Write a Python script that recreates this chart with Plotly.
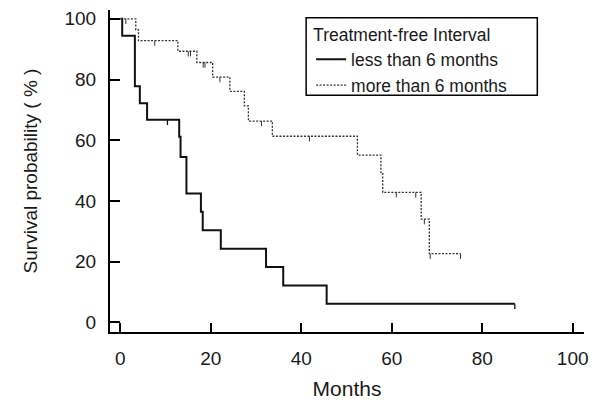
import plotly.graph_objects as go

# ---- data (Kaplan-Meier steps) ----
less_times = [0, 0.4, 3.2, 4.3, 5.9, 13.0, 13.3, 14.6, 17.8, 18.2, 22.2, 32.2, 36.0, 45.6, 87.2]
less_surv  = [100, 94.4, 77.8, 72.2, 66.7, 61.1, 54.5, 42.4, 36.4, 30.3, 24.2, 18.2, 12.1, 6.1, 6.1]
less_censor = [10.4, 87.2]

more_times = [0, 3.4, 4.0, 12.7, 16.9, 20.4, 24.2, 27.4, 28.3, 33.6, 52.4, 57.6, 58.0, 66.5, 68.3, 75.2]
more_surv  = [100, 96.4, 92.8, 89.3, 85.6, 80.8, 76.1, 71.3, 66.3, 61.3, 55.1, 49.1, 42.8, 34.0, 22.6, 22.6]
more_censor = [1.2, 7.6, 15.0, 15.5, 18.3, 18.7, 22.0, 31.2, 41.8, 61.0, 65.3, 67.2, 68.5, 75.2]

x_ticks = [0, 20, 40, 60, 80, 100]
y_ticks = [0, 20, 40, 60, 80, 100]

legend_title = "Treatment-free Interval"
name_less = "less than 6 months"
name_more = "more than 6 months"

FONT = "Liberation Sans, Arial, sans-serif"
TICK_DROP = 1.7  # censor tick length, in % units


def level_at(times, surv, t):
    val = surv[0]
    for ti, si in zip(times, surv):
        if ti <= t:
            val = si
    return val


def censor_segments(times, surv, cens):
    xs, ys = [], []
    for c in cens:
        lv = level_at(times, surv, c)
        xs += [c, c, None]
        ys += [lv, lv - TICK_DROP, None]
    return xs, ys


fig = go.Figure()

fig.add_trace(go.Scatter(
    x=less_times, y=less_surv, mode="lines", line_shape="hv",
    line=dict(color="#111111", width=2), name=name_less))
fig.add_trace(go.Scatter(
    x=more_times, y=more_surv, mode="lines", line_shape="hv",
    line=dict(color="#333333", width=1.3, dash="2px,1.5px"), name=name_more))

cx, cy = censor_segments(less_times, less_surv, less_censor)
fig.add_trace(go.Scatter(x=cx, y=cy, mode="lines", line=dict(color="#111111", width=1.3),
                         showlegend=False, hoverinfo="skip"))
cx, cy = censor_segments(more_times, more_surv, more_censor)
fig.add_trace(go.Scatter(x=cx, y=cy, mode="lines", line=dict(color="#333333", width=1),
                         showlegend=False, hoverinfo="skip"))

# legend frame (drawn as a paper-referenced box)
fig.add_shape(type="rect", xref="paper", yref="paper",
              x0=0.4138, x1=0.9015, y0=0.735, y1=0.976,
              line=dict(color="black", width=1.5), fillcolor="rgba(0,0,0,0)", layer="above")

fig.update_layout(
    width=599, height=406,
    margin=dict(l=110, r=15, t=9, b=63),
    paper_bgcolor="white", plot_bgcolor="white",
    font=dict(family=FONT, size=19, color="#1a1a1a"),
    showlegend=True,
    legend=dict(
        title=dict(text=legend_title, font=dict(size=17.5)),
        font=dict(size=17.5),
        x=0.4243, y=0.973, xanchor="left", yanchor="top",
        borderwidth=0, bgcolor="rgba(0,0,0,0)",
        tracegroupgap=0, itemwidth=30,
    ),
)

fig.update_xaxes(
    range=[-2.3, 102.5], tickvals=x_ticks, ticktext=[str(v) for v in x_ticks],
    showgrid=False, zeroline=False, showline=True, linecolor="black", linewidth=2,
    ticks="inside", ticklen=9, tickwidth=1.5, tickcolor="black",
    ticklabelstandoff=8,
    title=dict(text="Months", font=dict(size=21), standoff=14),
)
fig.update_yaxes(
    range=[-3.2, 102.9], tickvals=y_ticks, ticktext=[str(v) for v in y_ticks],
    showgrid=False, zeroline=False, showline=True, linecolor="black", linewidth=2,
    ticks="inside", ticklen=10, tickwidth=1.5, tickcolor="black",
    ticklabelstandoff=8,
    title=dict(text="Survival probability ( % )", font=dict(size=19), standoff=22),
)

fig.write_html("out.html")
